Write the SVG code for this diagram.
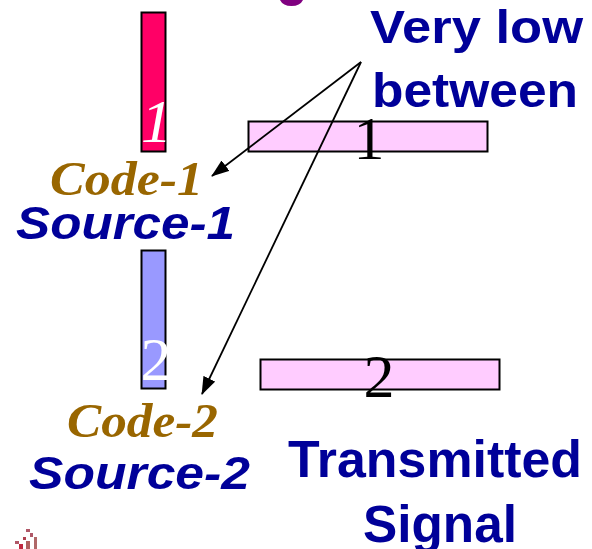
<svg xmlns="http://www.w3.org/2000/svg" width="592" height="549" viewBox="0 0 592 549">
  <style>
    .bar { stroke: #000; stroke-width: 2; }
    .blue { fill: #000099; font-family: "Liberation Sans", Arial, sans-serif; font-weight: bold; }
    .code { fill: #996600; font-family: "Liberation Serif", "Times New Roman", serif; font-weight: bold; font-style: italic; font-size: 48px; }
    .num { font-family: "Liberation Serif", "Times New Roman", serif; font-size: 62px; }
    .conn { stroke: #000; stroke-width: 1.8; fill: none; marker-end: url(#head); }
  </style>
  <defs>
    <marker id="head" viewBox="0 0 18 13" refX="17" refY="6.5" markerWidth="18" markerHeight="13" markerUnits="userSpaceOnUse" orient="auto">
      <path d="M0,0 L18,6.5 L0,13 Z" fill="#000"/>
    </marker>
  </defs>
  <rect width="592" height="549" fill="#fff"/>

  <!-- lower edge of a heading glyph cut by the top border -->
  <path d="M280,0 Q283,6 291.5,6 Q300,6 303,0 Z" fill="#800080"/>

  <!-- source 1 : code bar and labels -->
  <g id="source1">
    <rect class="bar" x="141.5" y="12.5" width="24" height="139" fill="#FF0066"/>
    <text class="num" x="141" y="142" fill="#fff" font-style="italic">1</text>
    <text class="code" x="50" y="195" textLength="153" lengthAdjust="spacingAndGlyphs">Code-1</text>
    <text class="blue" x="16" y="239" font-size="47" font-style="italic" textLength="219" lengthAdjust="spacingAndGlyphs">Source-1</text>
  </g>

  <!-- source 2 : code bar and labels -->
  <g id="source2">
    <rect class="bar" x="141.5" y="250.5" width="24" height="138" fill="#9999FF"/>
    <text class="num" x="156" y="380" fill="#fff" text-anchor="middle">2</text>
    <text class="code" x="67" y="437" textLength="151" lengthAdjust="spacingAndGlyphs">Code-2</text>
    <text class="blue" x="29" y="489" font-size="47" font-style="italic" textLength="221" lengthAdjust="spacingAndGlyphs">Source-2</text>
  </g>

  <!-- transmitted signal 1 -->
  <g id="signal1">
    <rect class="bar" x="248.5" y="121.5" width="239" height="30" fill="#FFCCFF"/>
    <text class="num" x="369" y="159" fill="#000" text-anchor="middle">1</text>
  </g>

  <!-- transmitted signal 2 -->
  <g id="signal2">
    <rect class="bar" x="260.5" y="359.5" width="239" height="30" fill="#FFCCFF"/>
    <text class="num" x="379" y="397" fill="#000" text-anchor="middle">2</text>
  </g>

  <!-- note: very low cross-correlation -->
  <g id="note">
    <text class="blue" x="370" y="43" font-size="47" textLength="213" lengthAdjust="spacingAndGlyphs">Very low</text>
    <text class="blue" x="372" y="107" font-size="49" textLength="206" lengthAdjust="spacingAndGlyphs">between</text>
  </g>

  <!-- caption -->
  <g id="caption">
    <text class="blue" x="288" y="477" font-size="52" textLength="294" lengthAdjust="spacingAndGlyphs">Transmitted</text>
    <text class="blue" x="363" y="542" font-size="51" textLength="154" lengthAdjust="spacingAndGlyphs">Signal</text>
  </g>

  <!-- connectors -->
  <g id="connectors">
    <line class="conn" x1="361" y1="62" x2="212" y2="176"/>
    <line class="conn" x1="361" y1="62" x2="202" y2="394"/>
  </g>

  <!-- small corner logo -->
  <g id="logo">
    <rect x="26" y="529" width="4" height="3" fill="#b05868"/>
    <rect x="30" y="533" width="3" height="4" fill="#b05868"/>
    <rect x="23" y="537" width="3" height="3" fill="#b04050"/>
    <rect x="15" y="541" width="4" height="3" fill="#b05868"/>
    <rect x="19" y="544" width="4" height="5" fill="#c02840"/>
    <rect x="26" y="541" width="4" height="8" fill="#b06060"/>
    <rect x="34" y="537" width="3" height="12" fill="#b06868"/>
  </g>
</svg>
